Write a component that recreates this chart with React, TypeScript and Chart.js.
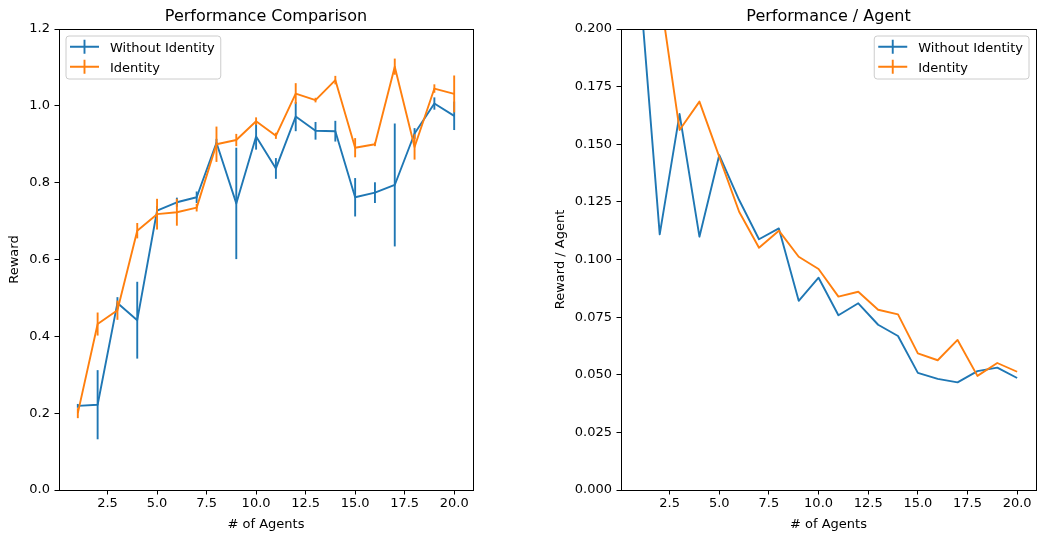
import React, { useEffect, useRef } from 'react';
import { Chart, registerables } from 'chart.js';

Chart.register(...registerables);

// ---------- data ----------
const agents = [1, 2, 3, 4, 5, 6, 7, 8, 9, 10, 11, 12, 13, 14, 15, 16, 17, 18, 19, 20];
const seriesLabels = ['Without Identity', 'Identity'];

const rewardWithout = [0.219, 0.222, 0.487, 0.442, 0.727, 0.749, 0.762, 0.904, 0.746, 0.920, 0.837, 0.972, 0.935, 0.934, 0.762, 0.774, 0.794, 0.928, 1.006, 0.974];
const errWithout = [0.005, 0.09, 0.015, 0.1, 0.012, 0.012, 0.015, 0.01, 0.145, 0.034, 0.027, 0.038, 0.023, 0.027, 0.05, 0.027, 0.16, 0.014, 0.016, 0.037];
const rewardIdentity = [0.200, 0.432, 0.468, 0.675, 0.718, 0.723, 0.735, 0.900, 0.911, 0.960, 0.922, 1.032, 1.015, 1.067, 0.891, 0.900, 1.102, 0.893, 1.045, 1.031];
const errIdentity = [0.013, 0.03, 0.025, 0.02, 0.04, 0.035, 0.01, 0.046, 0.016, 0.01, 0.008, 0.027, 0.006, 0.011, 0.025, 0.005, 0.021, 0.033, 0.011, 0.048];

const perAgentWithout = [0.219, 0.1109, 0.1631, 0.1099, 0.1453, 0.1258, 0.1088, 0.1135, 0.0821, 0.0921, 0.0758, 0.0810, 0.0717, 0.0668, 0.0508, 0.0482, 0.0467, 0.0516, 0.0531, 0.0486];
const perAgentIdentity = [0.200, 0.216, 0.1562, 0.1685, 0.1445, 0.1207, 0.1051, 0.1125, 0.1012, 0.0959, 0.0839, 0.0860, 0.0782, 0.0762, 0.0593, 0.0563, 0.0651, 0.0495, 0.0551, 0.0513];

const xTickValues = [2.5, 5, 7.5, 10, 12.5, 15, 17.5, 20];
const leftYTickValues = [0, 0.2, 0.4, 0.6, 0.8, 1.0, 1.2];
const rightYTickValues = [0, 0.025, 0.05, 0.075, 0.1, 0.125, 0.15, 0.175, 0.2];

const titles = ['Performance Comparison', 'Performance / Agent'];
const yTitles = ['Reward', 'Reward / Agent'];
const xTitle = '# of Agents';

// ---------- style ----------
const BLUE = '#1f77b4';
const ORANGE = '#ff7f0e';
const FONT = '"DejaVu Sans", sans-serif';
const FS = 13;
const LW = 1.9;

const decorPlugin = {
  id: 'mplDecor',
  afterDatasetDraw(chart: any, args: any) {
    const ds = chart.data.datasets[args.index];
    const errs = ds.errors;
    if (!errs) return;
    const xs = chart.scales.x;
    const ys = chart.scales.y;
    const ctx = chart.ctx;
    const a = chart.chartArea;
    ctx.save();
    ctx.beginPath();
    ctx.rect(a.left, a.top, a.right - a.left, a.bottom - a.top);
    ctx.clip();
    ctx.strokeStyle = ds.borderColor;
    ctx.lineWidth = ds.borderWidth;
    ctx.lineCap = 'butt';
    ds.data.forEach((pt: any, i: number) => {
      const px = xs.getPixelForValue(pt.x);
      ctx.beginPath();
      ctx.moveTo(px, ys.getPixelForValue(pt.y - errs[i]));
      ctx.lineTo(px, ys.getPixelForValue(pt.y + errs[i]));
      ctx.stroke();
    });
    ctx.restore();
  },
  afterDraw(chart: any) {
    const o = chart.options.plugins.mplDecor || {};
    const ctx = chart.ctx;
    const a = chart.chartArea;
    ctx.save();
    // spines
    ctx.strokeStyle = '#000';
    ctx.lineWidth = 1;
    ctx.strokeRect(Math.round(a.left) + 0.5, Math.round(a.top) + 0.5, Math.round(a.right - a.left), Math.round(a.bottom - a.top));
    // title
    ctx.fillStyle = '#000';
    ctx.font = `16px ${FONT}`;
    ctx.textAlign = 'center';
    ctx.textBaseline = 'alphabetic';
    ctx.fillText(o.title || '', (a.left + a.right) / 2, 20.5);
    // legend
    ctx.font = `${FS}px ${FONT}`;
    const textW = Math.max(...chart.data.datasets.map((d: any) => ctx.measureText(d.label).width));
    const boxW = 44 + textW + 6;
    const boxH = 43;
    const bx = o.legendSide === 'right' ? a.right - 7 - boxW : a.left + 7;
    const by = a.top + 7;
    ctx.beginPath();
    const r = 3;
    ctx.moveTo(bx + r, by);
    ctx.lineTo(bx + boxW - r, by);
    ctx.arcTo(bx + boxW, by, bx + boxW, by + r, r);
    ctx.lineTo(bx + boxW, by + boxH - r);
    ctx.arcTo(bx + boxW, by + boxH, bx + boxW - r, by + boxH, r);
    ctx.lineTo(bx + r, by + boxH);
    ctx.arcTo(bx, by + boxH, bx, by + boxH - r, r);
    ctx.lineTo(bx, by + r);
    ctx.arcTo(bx, by, bx + r, by, r);
    ctx.closePath();
    ctx.fillStyle = 'rgba(255,255,255,0.8)';
    ctx.fill();
    ctx.strokeStyle = '#cccccc';
    ctx.lineWidth = 1;
    ctx.stroke();
    // entries in plotting order
    const order = [...chart.data.datasets].sort((p: any, q: any) => (q.order ?? 0) - (p.order ?? 0));
    order.forEach((d: any, i: number) => {
      const cy = by + 10.7 + i * 20;
      ctx.strokeStyle = d.borderColor;
      ctx.lineWidth = LW;
      ctx.beginPath();
      ctx.moveTo(bx + 4, cy);
      ctx.lineTo(bx + 33, cy);
      ctx.moveTo(bx + 18.5, cy - 7);
      ctx.lineTo(bx + 18.5, cy + 7);
      ctx.stroke();
      ctx.fillStyle = '#000';
      ctx.textAlign = 'left';
      ctx.textBaseline = 'alphabetic';
      ctx.fillText(d.label, bx + 44, cy + 5);
    });
    ctx.restore();
  },
};

function makeDataset(label: string, values: number[], color: string, order: number, errors?: number[]) {
  return {
    label,
    data: agents.map((a, i) => ({ x: a, y: values[i] })),
    borderColor: color,
    backgroundColor: color,
    borderWidth: LW,
    pointRadius: 0,
    tension: 0,
    fill: false,
    borderJoinStyle: 'round',
    clip: 0,
    order,
    errors,
  };
}

function makeConfig(panel: number): any {
  const isLeft = panel === 0;
  const yTicks = isLeft ? leftYTickValues : rightYTickValues;
  const datasets = isLeft
    ? [
        makeDataset(seriesLabels[0], rewardWithout, BLUE, 1, errWithout),
        makeDataset(seriesLabels[1], rewardIdentity, ORANGE, 0, errIdentity),
      ]
    : [
        makeDataset(seriesLabels[0], perAgentWithout, BLUE, 1),
        makeDataset(seriesLabels[1], perAgentIdentity, ORANGE, 0),
      ];
  const axisCommon = {
    grid: { display: true, drawOnChartArea: false, drawTicks: true, tickLength: 4.5, color: '#000', tickWidth: 1 },
    border: { display: true, color: '#000', width: 1 },
  };
  return {
    type: 'line',
    data: { datasets },
    options: {
      responsive: false,
      animation: false,
      events: [],
      layout: { padding: { left: 0, right: isLeft ? 45 : 1, top: 29, bottom: 0 } },
      plugins: {
        legend: { display: false },
        title: { display: false },
        tooltip: { enabled: false },
        mplDecor: { title: titles[panel], legendSide: isLeft ? 'left' : 'right' },
      },
      scales: {
        x: {
          type: 'linear',
          min: 0.05,
          max: 20.95,
          ...axisCommon,
          afterBuildTicks: (s: any) => {
            s.ticks = xTickValues.map((v) => ({ value: v }));
          },
          afterFit: (s: any) => {
            s.height = 44;
          },
          ticks: {
            color: '#000',
            font: { family: FONT, size: FS },
            padding: 1.5,
            maxRotation: 0,
            autoSkip: false,
            callback: (v: number) => v.toFixed(1),
          },
          title: {
            display: true,
            text: xTitle,
            color: '#000',
            font: { family: FONT, size: FS },
            padding: { top: 0, bottom: 1.5 },
          },
        },
        y: {
          type: 'linear',
          min: yTicks[0],
          max: yTicks[yTicks.length - 1],
          ...axisCommon,
          afterBuildTicks: (s: any) => {
            s.ticks = yTicks.map((v) => ({ value: v }));
          },
          afterFit: (s: any) => {
            s.width = isLeft ? 59 : 103;
          },
          ticks: {
            color: '#000',
            font: { family: FONT, size: FS },
            padding: 4.5,
            autoSkip: false,
            callback: (v: number) => v.toFixed(isLeft ? 1 : 3),
          },
          title: {
            display: true,
            text: yTitles[panel],
            color: '#000',
            font: { family: FONT, size: FS },
            padding: { top: isLeft ? 7.2 : 35.2, bottom: 0 },
          },
        },
      },
    },
    plugins: [decorPlugin],
  };
}

function Panel({ panel, left, width }: { panel: number; left: number; width: number }) {
  const ref = useRef<HTMLCanvasElement | null>(null);
  useEffect(() => {
    if (!ref.current) return;
    const chart = new Chart(ref.current, makeConfig(panel));
    return () => chart.destroy();
  }, [panel]);
  return (
    <canvas
      ref={ref}
      width={width}
      height={534}
      style={{ position: 'absolute', left, top: 0, width, height: 534, display: 'block' }}
    />
  );
}

export default function App() {
  return (
    <div style={{ position: 'absolute', left: 0, top: 0, width: 1037, height: 534, background: '#fff', overflow: 'hidden' }}>
      <Panel panel={0} left={0} width={518} />
      <Panel panel={1} left={518} width={519} />
    </div>
  );
}
